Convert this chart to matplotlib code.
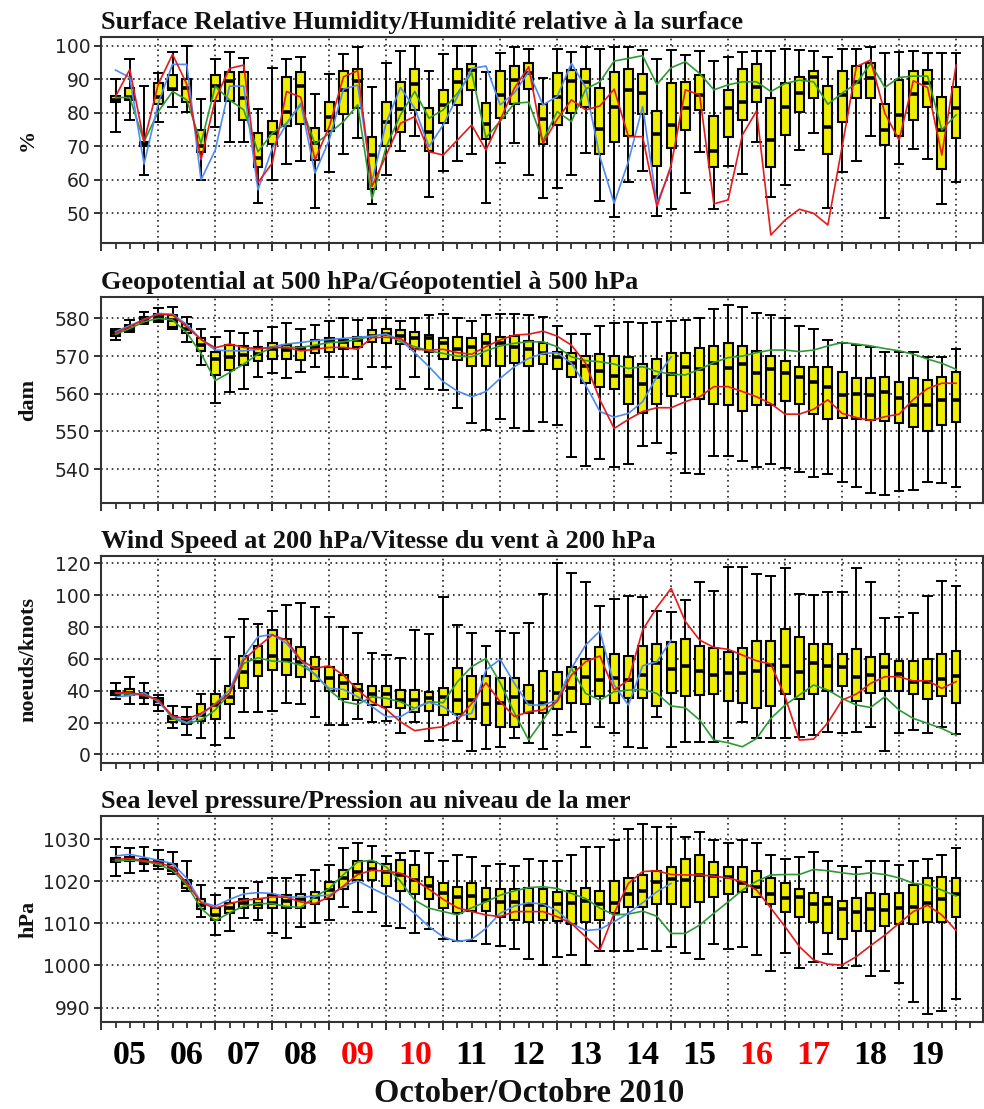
import numpy as np
import matplotlib
matplotlib.use('Agg')
import matplotlib.pyplot as plt
from matplotlib.transforms import blended_transform_factory

# ---------------- data (6-hourly steps, 05 Oct 06Z .. 20 Oct 00Z) ----------------
steps = np.arange(1, 61)
day_labels = ['05', '06', '07', '08', '09', '10', '11', '12', '13', '14', '15', '16', '17', '18', '19']
day_colors = ['black', 'black', 'black', 'black', 'red', 'red', 'black', 'black', 'black',
              'black', 'black', 'red', 'red', 'black', 'black']

# Surface relative humidity (%)
rh_low = [74.4, 77.9, 61.5, 77.4, 81.7, 80.2, 60, 75.9, 71.4, 71.4,
          53.2, 60, 64.7, 65.6, 51.7, 62.3, 67.6, 72.4, 52.7, 61.3,
          68.6, 73.1, 55, 62.7, 65.6, 67.6, 53.2, 65.1, 70.9, 61.5,
          54.5, 57.5, 61.5, 67.9, 53.7, 48.8, 59.2, 62.7, 49.2, 51.2,
          56, 68.4, 51.2, 64.2, 61.8, 71.4, 55, 58.5, 68.9, 73.9,
          51.5, 62.2, 65.6, 73.2, 48.7, 64.7, 69.1, 66.1, 52.8, 59.3]
rh_q1 = [83.4, 83.9, 70.1, 82.7, 86.7, 83.3, 68.4, 83.6, 83.6, 77.9,
         63.9, 70.7, 76.1, 76.7, 65.9, 74.7, 79.7, 81.4, 57.3, 70.2,
         74.4, 80.9, 68.7, 76.9, 82.4, 86.7, 72.1, 78.4, 82.6, 87.1,
         70.6, 76.3, 79.9, 81.7, 67.6, 71.4, 73.2, 79.6, 64.2, 69.6,
         74.9, 80.8, 63.7, 72.9, 77.9, 83.2, 63.7, 73.4, 80.2, 84.6,
         67.6, 77.2, 84.6, 84.6, 70.4, 73.2, 77.9, 81.7, 63.2, 72.6]
rh_med = [84, 84.9, 70.7, 84.9, 87, 87.4, 70.2, 88.1, 89.5, 84.6,
          66.4, 73.9, 80.4, 88.1, 70.9, 78.7, 86.9, 89.6, 67.4, 77.2,
          81.1, 88.5, 74.2, 82.4, 89.2, 92.8, 76.6, 85.4, 89.8, 92,
          78.1, 84.9, 89.6, 89.3, 75.3, 81.7, 86.9, 85.9, 73.6, 76.4,
          81.6, 85.4, 68.7, 81.6, 83.4, 87.8, 71.9, 81.9, 85.9, 90.8,
          75.7, 85.4, 89.3, 90.3, 74.9, 79.4, 85.7, 88.8, 74.9, 81.4]
rh_q3 = [85, 87.4, 71.4, 88.8, 91.2, 90.2, 74.9, 91.2, 92.2, 92.2,
         74.1, 77.7, 90.6, 92.2, 75.4, 83.4, 92.6, 93.1, 72.9, 83.4,
         89.3, 93, 81.4, 86.9, 93, 94.6, 82.9, 92.6, 94.1, 94.8,
         82.7, 91.8, 92.8, 93.1, 87.4, 92.3, 93.1, 91.6, 80.6, 88.8,
         89.3, 91.2, 79.1, 86.9, 93.1, 94.6, 84.6, 88.8, 90.6, 92.6,
         88.1, 92.6, 94.1, 94.8, 82.6, 89.8, 92.6, 92.8, 84.9, 87.8]
rh_high = [90.2, 96.1, 88, 92, 98.1, 100, 84.3, 96.1, 98.1, 96.5,
           81.2, 93.5, 96.2, 96.6, 85.6, 91.5, 97.6, 99.6, 87.8, 94.8,
           98.6, 100, 92.6, 97.5, 100, 100, 92.3, 97.8, 99.8, 99,
           90.3, 99, 98.3, 99.8, 99, 99.8, 99.8, 98.8, 96, 98.8,
           97.3, 98.6, 95.6, 96.6, 98.3, 98.6, 98.6, 99.1, 98.8, 98.6,
           96.6, 99, 99.1, 99.8, 97.8, 98.1, 98.6, 97.8, 97.8, 97.8]
rh_red = [84.9, 93, 71.4, 88.6, 97.5, 88.6, 66, 84, 93.3, 94.3,
          59.2, 65, 86.4, 84.7, 66, 75.9, 90.8, 92.6, 58, 67.4,
          76.9, 78.9, 68.4, 67.4, 71.9, 76.4, 68.9, 77.9, 87.4, 93.8,
          70.9, 78.1, 83.9, 80.9, 82.1, 87.1, 72.9, 72.9, 52, 64.4,
          86.9, 85.4, 52.8, 54, 73.4, 80.6, 43.5, 48, 51.2, 50,
          46.5, 69.9, 93.8, 95.8, 79.9, 71.9, 89.6, 87.6, 67.4, 94.3]
rh_green = [84.6, 84.6, 71.4, 80.4, 86.4, 83.9, 70.9, 88, 83.9, 80.9,
            68.4, 73.9, 76.9, 82.4, 70.7, 73.9, 77.4, 82.4, 54.3, 69.9,
            79.4, 86.4, 78.4, 80.9, 85.9, 92, 72.6, 77.5, 82.9, 83.2,
            71.6, 80.4, 77.4, 87.1, 89.3, 95.5, 96.3, 97.1, 88.5, 93.5,
            95.3, 91.8, 86.9, 88.4, 89.3, 89.3, 86.4, 88.8, 89.8, 89.3,
            82.6, 85.9, 88.8, 94.8, 87.6, 90.6, 91, 91, 74.9, 79.4]
rh_blue = [92.8, 90.6, 64.7, 82.9, 94.5, 94.5, 60, 68.9, 88, 88,
           57, 69.4, 76.7, 82.9, 62, 71.9, 87.1, 88.3, 59.5, 77.1,
           87.6, 81.4, 69.9, 76.4, 84.9, 93.3, 94, 82.4, 86, 92.3,
           82.4, 84.9, 94.8, 87.6, 66.9, 53, 65.5, 81.9, 53, 63.4]

# Geopotential at 500 hPa (dam)
gz_low = [574.4, 576.5, 578.4, 579.1, 577.3, 573.8, 567.6, 557.6, 560.4, 561.4,
          564.5, 565.4, 564.1, 565.9, 567.2, 564.5, 564.5, 563.8, 567.2, 567.2,
          561.2, 564.4, 561.2, 561, 556.3, 552.2, 550.4, 553.2, 550.8, 550.2,
          552.4, 551.7, 543.1, 540.9, 542.6, 540.5, 541.4, 546.2, 547, 544.4,
          538.9, 538.7, 543.5, 543.5, 542.2, 540.5, 541.4, 540.2, 539.2, 537.9,
          538.7, 536.7, 535.2, 533.6, 533.2, 534.1, 534.5, 536.7, 536.2, 535.2]
gz_q1 = [575.3, 576.9, 578.7, 579.6, 577.8, 576, 571.4, 565, 566.3, 567.6,
         568.8, 569.2, 569.2, 569, 570.7, 571.2, 571.8, 572.3, 573.8, 573.4,
         573.2, 572, 571.2, 569.2, 569, 567.4, 567.4, 567.4, 568.1, 567.4,
         567.9, 566.6, 564.5, 562.8, 561.9, 561.2, 557.2, 555, 557.2, 559.4,
         559.1, 558.5, 557.2, 556.9, 555.5, 556.9, 556.9, 558.1, 557.2, 554.6,
         553.3, 553.7, 553.3, 553.1, 552.9, 552.2, 551.3, 550, 551.7, 552.4]
gz_med = [576, 577.3, 579.6, 580.4, 579.6, 577.2, 572.9, 569.1, 569.8, 570.3,
          570.5, 572, 571.6, 571.8, 572.5, 574.1, 573.8, 574.3, 575.3, 575.8,
          575.3, 574.7, 574.7, 573.4, 572, 572.5, 573.4, 573.6, 572.3, 571.8,
          570.7, 569.8, 568.1, 567.4, 566.1, 564.7, 564.7, 562.6, 564.5, 565.2,
          567.2, 566.7, 568.1, 566.9, 567.8, 565.6, 566.5, 565.6, 564.4, 563,
          561.7, 559.7, 559.9, 559.7, 560.4, 558.8, 557, 557, 558.4, 558.4]
gz_q3 = [576.6, 578.2, 580.3, 581.1, 580.9, 578.4, 574.7, 571.2, 572.9, 572.7,
         572.5, 573.4, 572.9, 572.5, 574.3, 574.7, 574.3, 575, 576.9, 577.3,
         576.9, 576.5, 575.6, 574.7, 575.1, 574.7, 575.8, 575.1, 575.3, 574.1,
         573.4, 571.2, 570.9, 570, 570.5, 570, 569.7, 567.9, 569.1, 570.9,
         570.9, 572.2, 572.7, 573.6, 572.7, 571.4, 570, 568.8, 567, 567,
         567, 565.7, 564.1, 564.1, 564.5, 563.2, 564.1, 563.7, 564.5, 565.7]
gz_high = [577.2, 579.6, 581.8, 582.7, 582.9, 580.4, 577.3, 575.1, 576.6, 576.2,
           576.6, 577.8, 578.9, 577.3, 578.2, 579.4, 580, 579.6, 580, 580,
           579.3, 580, 580.9, 581.3, 580, 579.3, 580.9, 581.3, 581.3, 580.9,
           580.4, 578, 575.8, 575.8, 578, 578.9, 579.1, 578.9, 579.1, 579.4,
           579.7, 580, 582.5, 583.5, 582.9, 581.5, 580.9, 580, 578, 577.3,
           574.4, 573.4, 572.9, 572.3, 571.2, 571.2, 571.2, 569.8, 569.8, 571.8]
gz_red = [576.2, 577.8, 579.7, 581.1, 580.9, 577.8, 574.4, 572.2, 573.2, 572.3,
          572, 572.3, 572.3, 571.4, 571.8, 572.3, 572.3, 571.8, 574.9, 575,
          574.7, 571.8, 571.6, 571.8, 570.9, 570.5, 572.5, 574.3, 575.6, 575.8,
          576.6, 575.3, 572.9, 568.1, 558.4, 550.8, 553.2, 555.3, 556.3, 556.3,
          557.9, 559.2, 561.9, 561.9, 560.6, 559.2, 557.4, 554.6, 554.6, 555.9,
          558.4, 554.8, 553.7, 552.9, 553.9, 554.6, 558.5, 561.4, 562.8, 562.8]
gz_green = [575.8, 577.3, 579.1, 580, 579.6, 576.2, 570.7, 563.5, 565.6, 567.9,
            570.5, 572.3, 572.3, 572.3, 572.9, 573.6, 573.8, 574.4, 575.3, 575.8,
            573.8, 572.5, 571.4, 570.7, 570, 569.8, 571.4, 572.7, 573.4, 573.8,
            573.8, 572.5, 569.8, 568.8, 568.5, 567.9, 566.7, 567.2, 565.9, 565.2,
            565, 566.5, 568.3, 569.6, 570, 570.9, 571.6, 571.6, 571.2, 571.6,
            572.7, 573.6, 573.2, 572.7, 572, 571.4, 570.5, 569.2, 568.1, 566.5]
gz_blue = [576.5, 578.1, 579.7, 581.3, 581.1, 578.4, 574.4, 571.6, 571.4, 571.4,
           571.8, 572.5, 573.2, 573.6, 574.1, 574.4, 574.7, 575, 575.3, 575.8,
           574.3, 570.9, 567.2, 563.2, 560.7, 559.2, 560.6, 564.1, 567.2, 569.4,
           570.7, 570.9, 568.1, 562.3, 555.3, 553.8, 554.8, 557.9, 564.5, 569.8]

# Wind speed at 200 hPa (knots)
ws_low = [34.6, 31.6, 31.6, 27.4, 16.3, 12.1, 10, 5.8, 10, 26.4,
          26.4, 27.4, 32.5, 31.6, 23.2, 18.4, 18.4, 22.2, 20.1, 21.2,
          13.2, 20.5, 8.6, 9, 8.6, 2.3, 3.1, 4.8, 10, 7.3,
          3.1, 12.1, 14.2, 4.8, 17.4, 13.2, 4.8, 3.8, 23.7, 4.8,
          7.9, 7.9, 7.9, 10, 20.5, 10, 10, 10, 11.1, 12.1,
          14.2, 13.2, 14.2, 17.4, 2.3, 13.6, 15.3, 13.6, 17.4, 12.8]
ws_q1 = [37.3, 37.3, 35.6, 31, 20.5, 18.8, 21.2, 22.2, 31.4, 41.9,
         49.2, 53, 49.8, 48.8, 46.1, 39.8, 34.6, 34.1, 31, 30,
         28.9, 26.4, 27.4, 24.7, 25.1, 22.2, 18.4, 17.4, 17.4, 25.8,
         25.8, 28.3, 32.5, 31.4, 36.6, 32.5, 35.6, 35.6, 30.6, 38.7,
         36.9, 37.3, 37.9, 33.5, 32.5, 29.3, 30.6, 37.7, 34.6, 37.9,
         39.8, 43.1, 33.5, 38.3, 39.8, 39.8, 37.9, 34.8, 36.6, 32.5]
ws_med = [38.7, 38.3, 37.3, 33.5, 22.6, 21.2, 24.7, 31, 36.2, 51.9,
          58.2, 61.8, 59.3, 58.2, 54, 47.7, 45, 40.4, 37.9, 37.9,
          34.1, 34.1, 35.2, 36.2, 34.1, 34.1, 31.6, 32, 36.2, 33.1,
          32.5, 38.3, 41.5, 48.8, 46.7, 47.7, 46.7, 49.8, 57.2, 53.6,
          55.7, 52.6, 49.8, 51.3, 51.3, 52.6, 56.1, 55.7, 51.5, 57.6,
          55.7, 54.7, 48.8, 49.8, 54.7, 50.5, 45.2, 45.7, 47.3, 49.4]
ws_q3 = [39.8, 40.8, 38.7, 35.2, 24.1, 23.7, 31.6, 37.7, 42.9, 61.8,
         68.1, 78.1, 72.3, 67.2, 60.9, 55.1, 49.8, 44, 42.9, 42.9,
         40.4, 40.4, 39.4, 41.5, 54, 49.2, 49.2, 47.7, 47.7, 43.6,
         52.6, 51.5, 55.1, 59.7, 67.2, 62.8, 62, 68.1, 69.1, 70.8,
         72.5, 68.1, 67, 64.1, 67, 71.3, 71.3, 78.5, 73.9, 69.1,
         69.1, 63, 66, 61.4, 63, 58.8, 58.8, 59.9, 63, 64.9]
ws_high = [44.6, 48.8, 44.6, 37.3, 30.4, 29.5, 37.9, 59.7, 73.5, 84.8,
           81.7, 90.1, 93.9, 94.9, 92.4, 86.5, 80.2, 76.4, 63.9, 62.4,
           60.3, 78.1, 75.4, 98.6, 81.3, 76.4, 68.1, 77.5, 76, 82.3,
           100.7, 120, 114.1, 108.1, 93.4, 97.6, 99.7, 98.6, 90.1, 89.6,
           97, 108.1, 102.8, 117.9, 117.9, 113.3, 112, 117.3, 100.7, 100.1,
           102.2, 101.8, 116.9, 108.1, 85.4, 86.5, 88.6, 99.7, 108.9, 105.8]
ws_red = [38.7, 38.7, 37.3, 34.1, 24.1, 22.2, 25.8, 31.4, 38.3, 59.3,
          67.6, 75, 71.8, 59.3, 54, 55.7, 49.8, 40.4, 33.1, 28.3,
          20.5, 14.9, 16.3, 17.4, 21.6, 32, 45, 33.1, 23.7, 26.8,
          27.9, 33.1, 49.8, 58.2, 61.8, 40.4, 46.7, 78.1, 92.4, 104.3,
          83.4, 71.8, 67.2, 66, 62.4, 58.8, 56.8, 36.2, 9, 9.6,
          19.9, 34.1, 37.9, 44.6, 48.8, 48.8, 46.1, 46.3, 41.5, 45.7]
ws_green = [38.3, 37.9, 37.3, 34.1, 22.6, 19.5, 21.6, 27.9, 38.3, 57.2,
            60.7, 58.6, 58.2, 56.1, 50.5, 40.4, 33.1, 31.4, 36.2, 35.2,
            33.1, 28.9, 33.1, 32.5, 45.7, 55.1, 60.3, 45, 26, 9,
            21.6, 34.1, 54, 38.3, 34.1, 39.4, 40.4, 40.8, 38.3, 30.4,
            29.3, 21.6, 9, 7.3, 4.8, 10, 22.6, 31, 37.3, 43.6,
            40.4, 35.2, 31, 29.5, 36.2, 27.9, 22.6, 19.5, 16.3, 12.1]
ws_blue = [36.2, 36.9, 38.7, 33.1, 23.7, 19.9, 24.7, 32, 40.4, 61.4,
           73.9, 75.4, 69.7, 59.3, 49.8, 41.5, 40.8, 36.2, 30, 23.7,
           23.7, 28.9, 32.7, 30, 23.7, 25.8, 53, 59.7, 44.6, 31,
           31, 34.1, 54, 68.7, 77.5, 43.6, 31, 55.7, 58.2, 71.8]

# Sea level pressure (hPa)
slp_low = [1021.2, 1022, 1022.5, 1022.8, 1021.7, 1017.7, 1011.6, 1007.2, 1008.2, 1011.3,
           1010.8, 1007.6, 1006.6, 1009.2, 1010.2, 1010.9, 1014, 1012.6, 1012.8, 1009.4,
           1009, 1007.8, 1008.6, 1006.2, 1005.7, 1005.7, 1005.1, 1004.7, 1003.8, 1001.5,
           1000.1, 1002.1, 1002.5, 1000.1, 1003.5, 1003.5, 1003.5, 1003.8, 1003.5, 1004.5,
           1002.9, 1001.5, 1005.1, 1003.9, 1004.3, 1002.5, 998.8, 1003, 999.3, 1000.9,
           1002.7, 999.3, 999.9, 997.4, 998.8, 995.9, 991.4, 988.5, 989.1, 992]
slp_q1 = [1024.6, 1024.9, 1024.2, 1023.6, 1022.5, 1018.5, 1013.3, 1010.9, 1012.5, 1013.6,
          1013.7, 1013.6, 1013.6, 1013.6, 1014.7, 1015.9, 1018.1, 1020.4, 1020.4, 1018.9,
          1017.7, 1017, 1015.8, 1013.6, 1012.4, 1012.9, 1012.9, 1011.6, 1010.9, 1010.4,
          1010.9, 1010.6, 1009.8, 1010.4, 1010.9, 1012.4, 1014, 1014, 1014.7, 1014.7,
          1014, 1015, 1016.2, 1017, 1017.4, 1016.2, 1014.7, 1012.8, 1011.6, 1010.4,
          1007.8, 1006.2, 1008.3, 1008.2, 1009.4, 1009.8, 1009.8, 1010.4, 1010.4, 1011.4]
slp_med = [1025.2, 1025.3, 1024.9, 1024.5, 1023, 1019.5, 1014.3, 1012, 1013.7, 1014.9,
           1014.7, 1014.9, 1015.4, 1015.9, 1016.3, 1017.9, 1020.8, 1022.3, 1023, 1022.3,
           1021.6, 1020.3, 1018.9, 1017.3, 1016.2, 1016.5, 1015.5, 1015, 1015, 1014.3,
           1014.3, 1014.5, 1014.9, 1015.3, 1014.5, 1014.9, 1016.9, 1017.7, 1019.9, 1020.5,
           1020.4, 1021.6, 1021.2, 1020.9, 1019.5, 1018.7, 1016.9, 1016.1, 1016.2, 1014.6,
           1014.6, 1013.3, 1012.6, 1013.3, 1013.2, 1013.6, 1014, 1014.9, 1015.9, 1016.9]
slp_q3 = [1025.6, 1025.7, 1025.4, 1025, 1024.2, 1020.4, 1015.9, 1013.6, 1014.9, 1015.9,
          1015.7, 1016.7, 1016.7, 1016.9, 1017.5, 1019.9, 1022.6, 1024.8, 1024.6, 1024.2,
          1025, 1023.8, 1021.1, 1019.6, 1018.7, 1019.5, 1018.5, 1018.1, 1018.1, 1018.5,
          1018.1, 1017.5, 1017.7, 1018.5, 1017.7, 1020, 1020.8, 1021.6, 1022.5, 1023.4,
          1025.3, 1026.2, 1024.6, 1023.3, 1023.4, 1022.4, 1020.8, 1019.6, 1018.1, 1017.3,
          1016.2, 1015.4, 1016.1, 1017.3, 1016.9, 1017.3, 1019.1, 1020.8, 1021.1, 1020.8]
slp_high = [1028.2, 1027.8, 1028.2, 1027.4, 1027, 1024.8, 1019.2, 1016.7, 1018.5, 1018.5,
            1019.9, 1020.8, 1020.7, 1021.5, 1022.6, 1023.8, 1027.8, 1029.2, 1028.3, 1026,
            1026.6, 1027.2, 1026.8, 1024.8, 1026.2, 1025.8, 1023.6, 1024, 1023.6, 1025.4,
            1024.8, 1024.8, 1026.2, 1028.2, 1028.2, 1029.8, 1032.3, 1033.6, 1032.8, 1032.8,
            1030.4, 1031.6, 1029.9, 1029, 1029.8, 1029, 1026.2, 1025.4, 1025.8, 1027,
            1024.8, 1023.6, 1023.3, 1024.9, 1024.9, 1023.8, 1024.9, 1025.4, 1026.2, 1027.8]
slp_red = [1025.2, 1025.4, 1024.9, 1024.4, 1023.4, 1019.6, 1014.9, 1013.6, 1014.7, 1015.5,
           1015.8, 1016.3, 1016.2, 1015.1, 1014.7, 1016.3, 1018.9, 1021.6, 1022.6, 1022.4,
           1021.9, 1020.3, 1018.1, 1015.7, 1013.7, 1012.8, 1012, 1011.6, 1012.8, 1012.8,
           1012.8, 1011.6, 1010, 1006.8, 1003.7, 1012.4, 1019.5, 1022.3, 1022.5, 1021.6,
           1021.5, 1021.5, 1021.2, 1020.8, 1019.9, 1017.9, 1013.6, 1009.2, 1004.5, 1001.3,
           1000.3, 1000.1, 1002.1, 1004.7, 1007.2, 1010, 1012.8, 1014.3, 1012, 1008.3]
slp_green = [1024.8, 1025, 1024.8, 1024, 1022.6, 1019.1, 1013.6, 1010.6, 1012.5, 1014.1,
             1014.7, 1014.7, 1014, 1013.8, 1016.3, 1018.3, 1021.6, 1024.6, 1025, 1023.4,
             1020, 1015.5, 1013.6, 1012.8, 1012, 1013.7, 1015.1, 1016.7, 1017.7, 1018.5,
             1018.7, 1018.3, 1017.1, 1015.9, 1013.6, 1012, 1012.2, 1012.9, 1011.7, 1007.6,
             1007.6, 1009.6, 1012.4, 1015.1, 1017.9, 1020, 1021.5, 1021.6, 1021.6, 1022.8,
             1022.5, 1022, 1021.6, 1022, 1021.6, 1020.8, 1019.5, 1019.1, 1017.9, 1016.5]
slp_blue = [1026, 1026.4, 1025.7, 1025, 1024.2, 1020.7, 1015.1, 1014.1, 1015.7, 1017,
            1017.3, 1017.1, 1016.3, 1016.2, 1016.5, 1016.7, 1018.7, 1020.1, 1018.3, 1016.7,
            1014.9, 1012.4, 1009.2, 1006.8, 1005.7, 1006.2, 1008.8, 1012.4, 1014.1, 1014.9,
            1014.6, 1013, 1010, 1008.3, 1008.6, 1010.4, 1012.4, 1014.9, 1017.5, 1019.5]

titles = ['Surface Relative Humidity/Humidité relative à la surface',
          'Geopotential at 500 hPa/Géopotentiel à 500 hPa',
          'Wind Speed at 200 hPa/Vitesse du vent à 200 hPa',
          'Sea level pressure/Pression au niveau de la mer']
ylabels = ['%', 'dam', 'noeuds/knots', 'hPa']
yticks_list = [[50, 60, 70, 80, 90, 100],
               [540, 550, 560, 570, 580],
               [0, 20, 40, 60, 80, 100, 120],
               [990, 1000, 1010, 1020, 1030]]
xlabel = 'October/Octobre 2010'

# ---------------- styling / layout ----------------
W, H = 984, 1109
SERIF = 'Liberation Serif'
YELLOW = '#EEEE00'
RED = '#E41A1C'
GREEN = '#2E9A34'
BLUE = '#4F8BF2'
LEFT, RIGHT = 101.3, 982.7
panel_px = [(37.3, 242.7), (297.3, 502.7), (556.0, 762.7), (816.0, 1022.3)]
ylims = [(41.2, 102.6), (531.1, 585.6), (-5.2, 124.6), (986.5, 1035.5)]

fig = plt.figure(figsize=(W / 100, H / 100), dpi=100)

panels = [
    (rh_low, rh_q1, rh_med, rh_q3, rh_high, rh_red, rh_green, rh_blue),
    (gz_low, gz_q1, gz_med, gz_q3, gz_high, gz_red, gz_green, gz_blue),
    (ws_low, ws_q1, ws_med, ws_q3, ws_high, ws_red, ws_green, ws_blue),
    (slp_low, slp_q1, slp_med, slp_q3, slp_high, slp_red, slp_green, slp_blue),
]

axes = []
for p, (low, q1, med, q3, high, red, green, blue) in enumerate(panels):
    top, bot = panel_px[p]
    ax = fig.add_axes([LEFT / W, 1 - bot / H, (RIGHT - LEFT) / W, (bot - top) / H])
    axes.append(ax)
    stats = [dict(whislo=a, q1=b, med=c, q3=d, whishi=e, fliers=[])
             for a, b, c, d, e in zip(low, q1, med, q3, high)]
    ax.bxp(stats, positions=steps, widths=0.62, capwidths=0.62, patch_artist=True,
           showfliers=False, manage_ticks=False,
           boxprops=dict(facecolor=YELLOW, edgecolor='black', linewidth=1.5),
           medianprops=dict(color='black', linewidth=2.6, solid_capstyle='butt'),
           whiskerprops=dict(color='black', linewidth=1.4),
           capprops=dict(color='black', linewidth=1.4),
           zorder=2)
    ax.plot(steps[:len(green)], green, color=GREEN, lw=1.2, zorder=4)
    ax.plot(steps[:len(red)], red, color=RED, lw=1.2, zorder=5)
    ax.plot(steps[:len(blue)], blue, color=BLUE, lw=1.2, zorder=4)

    ax.set_xlim(0, 61.87)
    ax.set_ylim(*ylims[p])
    ax.set_yticks(yticks_list[p])
    ax.set_xticks(np.arange(0, 61, 4))
    ax.set_xticks(np.arange(0, 62, 1), minor=True)
    ax.set_axisbelow(True)
    ax.grid(True, which='major', color='#222222', linestyle=(0, (1, 2.2)), linewidth=1.2)
    ax.tick_params(axis='x', which='major', length=6, width=1.3, color='#222222',
                   labelbottom=False, direction='out')
    ax.tick_params(axis='x', which='minor', length=4.5, width=1.2, color='#222222',
                   direction='out')
    ax.tick_params(axis='y', which='major', length=5, width=1.3, color='#222222',
                   labelsize=13.5, labelcolor='#222222', pad=3)
    for s in ax.spines.values():
        s.set_linewidth(1.5)
        s.set_color('#333333')
    ax.annotate(titles[p], xy=(0, 1), xycoords='axes fraction', xytext=(-0.5, 6.0),
                textcoords='offset points', ha='left', va='baseline',
                family=SERIF, fontweight='bold', fontsize=19, color='#111111')
    fig.text(28 / W, 1 - ((top + bot) / 2) / H, ylabels[p], rotation=90,
             ha='center', va='center', family=SERIF, fontweight='bold', fontsize=16,
             color='#111111')

axb = axes[-1]
trans = blended_transform_factory(axb.transData, fig.transFigure)
for k, (d, c) in enumerate(zip(day_labels, day_colors)):
    axb.text(2 + 4 * k, 1 - 1063.5 / H, d, transform=trans, ha='center', va='baseline',
             family=SERIF, fontweight='bold', fontsize=24.5, color=c)
axb.text(30, 1 - 1101.5 / H, xlabel, transform=trans, ha='center', va='baseline',
         family=SERIF, fontweight='bold', fontsize=23.5, color='#111111')

fig.savefig('out.png', dpi=100, facecolor='white')
